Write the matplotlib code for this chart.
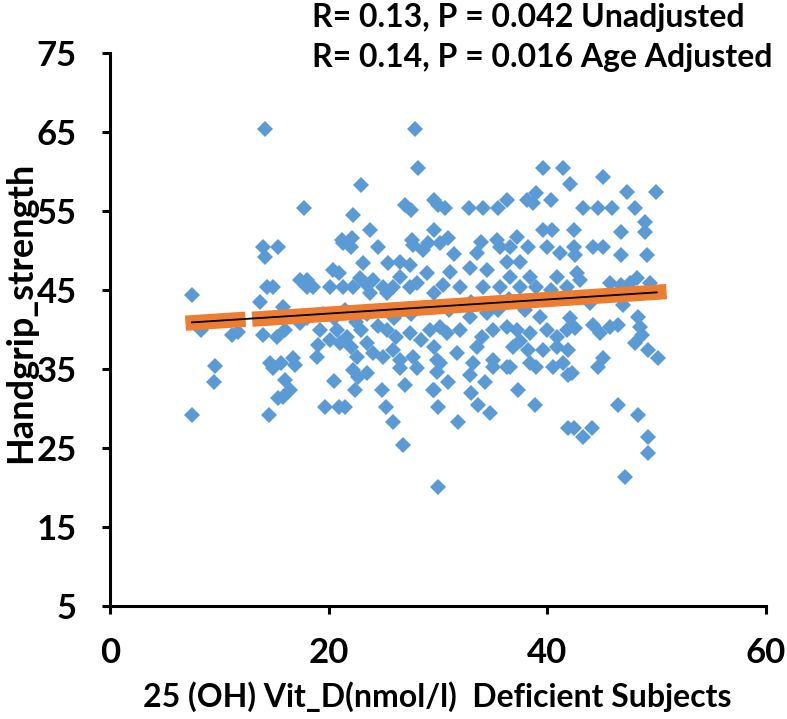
import matplotlib.pyplot as plt

# 25(OH) vitamin D (nmol/l) and handgrip strength
vit_d = [
    7.5, 7.5, 8.3, 9.6, 9.5, 11.2, 11.7, 13.7, 14.4, 14.9, 14.0, 15.4, 14.2, 14.0, 15.3,
    16.0, 15.8, 14.6, 15.6, 16.7, 17.4, 18.0, 14.2, 17.7, 14.5, 14.9, 16.0, 16.5, 15.4,
    15.8, 16.9,
    27.9, 28.2, 23.0, 22.2, 23.8, 27.0, 27.5, 29.6, 30.0, 21.2, 22.1, 27.6, 29.6, 29.1,
    39.6, 41.4, 42.1, 30.6, 32.8, 34.1, 35.5, 36.3, 38.1, 39.0, 40.3, 38.7, 30.9, 33.9,
    35.4, 37.2, 39.6, 40.4,
    21.3, 22.0, 27.7, 28.6, 23.1, 25.4, 26.5, 27.4, 20.4, 20.9, 18.0, 18.6, 22.9, 24.1,
    26.5, 29.0, 20.1, 21.3, 22.2, 23.5, 25.0, 25.9, 27.4, 28.1, 23.8, 25.3, 17.4, 19.2,
    20.8, 21.7, 20.1, 21.0, 22.0, 23.5, 24.1, 25.3, 26.2, 27.4, 28.4, 29.3, 18.9, 22.6,
    25.0, 25.9, 26.5, 27.7, 29.6, 29.9,
    22.2, 22.7, 22.4, 19.7, 20.9, 21.5, 24.9, 25.2, 25.9, 26.8, 26.5, 28.1, 29.5, 30.0,
    30.0,
    30.2, 33.6, 35.7, 36.6, 38.2, 40.0, 41.2, 36.3, 32.9, 31.1, 36.6, 38.4, 40.9, 30.5,
    32.0, 34.1, 35.7, 37.5, 39.0, 40.3, 41.8, 29.6, 32.9, 34.5, 39.3, 30.2, 30.8, 35.0,
    36.3, 37.2, 38.4, 40.0, 40.9, 41.8, 33.6, 36.9, 38.2, 39.6, 40.9, 31.7, 30.2, 33.2,
    35.0, 36.3, 38.4, 41.4,
    29.9, 30.9, 29.6, 31.8, 32.9, 34.3, 33.7, 34.8, 35.0, 36.6, 37.3, 38.9, 39.0, 40.5,
    41.9, 41.9,
    45.1, 47.3, 49.9, 43.3, 44.6, 45.9, 48.0, 42.4, 46.7, 48.9, 48.9, 42.4, 44.2, 45.1,
    42.5, 46.7, 49.1, 42.7, 43.0, 45.7, 46.7, 48.2, 49.4, 47.6, 43.9, 46.9, 42.1, 42.5,
    44.2, 44.8, 45.7, 46.5, 48.3, 48.5, 48.7, 48.0, 49.2, 50.1, 41.9, 45.1, 44.6, 42.3,
    46.5, 48.3, 42.4, 43.3, 44.1, 49.2, 49.2, 47.1,
    19.5, 20.5, 21.5, 22.5, 23.5, 23.0, 24.5, 26.0, 27.5, 31.0, 32.0, 33.0, 35.5, 36.5,
    38.0, 37.5, 34.5, 31.5, 24.5, 19.0, 18.0, 33.0, 37.5, 34.0, 27.0, 23.5, 20.5,
]
grip = [
    44.4, 29.2, 39.9, 35.4, 33.4, 39.3, 39.7, 43.5, 45.4, 45.4, 50.4, 50.4, 49.2, 39.3, 39.0,
    40.0, 42.8, 35.8, 35.8, 36.4, 46.3, 45.4, 65.4, 55.4, 29.2, 35.1, 33.6, 32.3, 31.3,
    31.5, 35.5,
    65.4, 60.4, 58.3, 54.5, 52.6, 55.8, 55.1, 56.4, 55.8, 51.3, 51.6, 51.3, 52.6, 51.0,
    60.4, 60.4, 58.4, 55.4, 55.4, 55.4, 55.4, 56.4, 56.4, 57.3, 56.4, 56.0, 51.6, 51.1,
    51.3, 51.7, 52.6, 52.6,
    50.9, 50.4, 50.7, 50.1, 48.4, 48.4, 48.6, 48.2, 47.5, 47.1, 46.3, 45.4, 46.5, 46.3,
    46.6, 47.1, 45.4, 45.4, 45.4, 45.6, 45.4, 45.4, 45.4, 45.9, 44.6, 44.6, 40.8, 39.9,
    39.9, 39.0, 38.7, 38.3, 37.8, 38.3, 37.0, 39.9, 39.0, 39.5, 38.7, 39.9, 36.5, 36.5,
    36.5, 37.4, 36.1, 36.5, 37.8, 36.1,
    34.9, 34.0, 32.3, 30.2, 30.2, 30.2, 32.3, 30.2, 28.3, 25.4, 35.1, 35.1, 32.3, 30.2,
    20.1,
    51.0, 49.7, 50.4, 50.4, 50.4, 50.4, 49.7, 48.6, 47.8, 47.3, 46.6, 46.6, 46.6, 45.6,
    45.4, 45.4, 45.4, 45.4, 45.4, 45.0, 45.4, 44.6, 41.6, 42.1, 41.6, 40.3, 39.6, 39.9,
    40.3, 39.9, 39.5, 39.9, 39.0, 39.9, 37.8, 37.8, 37.4, 37.4, 37.8, 37.0, 35.8, 35.8,
    36.1, 35.3, 35.8, 35.8,
    34.6, 33.4, 32.3, 28.3, 34.2, 33.4, 30.4, 29.4, 35.3, 35.3, 32.3, 30.4, 35.3, 35.3,
    34.2, 27.5,
    59.3, 57.4, 57.4, 55.4, 55.4, 55.4, 55.4, 52.6, 52.3, 53.6, 52.3, 50.4, 50.4, 50.4,
    49.4, 49.4, 49.4, 47.2, 46.3, 45.9, 45.6, 46.5, 45.9, 45.9, 43.4, 43.1, 41.5, 40.2,
    40.6, 39.6, 40.3, 40.6, 41.6, 40.3, 39.3, 38.3, 37.4, 36.4, 37.4, 36.4, 35.3, 34.5,
    30.4, 29.2, 27.5, 26.4, 27.5, 26.4, 24.4, 21.3,
    42.0, 41.5, 42.5, 41.0, 42.0, 40.0, 40.5, 41.5, 42.0, 42.5, 40.0, 43.5, 42.5, 43.8,
    42.5, 48.5, 47.5, 49.5, 50.5, 38.0, 41.5, 32.0, 38.5, 39.0, 33.0, 34.5, 33.5,
]

# trend line and the orange band behind it (two pieces, gap near x = 12.5)
trend_x = [7.5, 50.0]
trend_y = [40.9, 44.7]
band1_x = [6.9, 12.4]
band1_y = [40.8, 41.3]
band2_x = [13.0, 50.9]
band2_y = [41.3, 44.8]

W, H = 787, 719
fig = plt.figure(figsize=(W / 100, H / 100), dpi=100)
ax = fig.add_axes([110 / W, 113 / H, 656 / W, 553 / H])

font = ['Lato', 'DejaVu Sans']

ax.plot(vit_d, grip, linestyle='none', marker='D', ms=8.6, color='#5B9BD5',
        markeredgewidth=0, zorder=2)
ax.plot(band1_x, band1_y, color='#ED7D31', lw=11, solid_capstyle='butt', zorder=3)
ax.plot(band2_x, band2_y, color='#ED7D31', lw=11, solid_capstyle='butt', zorder=3)
ax.plot(trend_x, trend_y, color='black', lw=1.3, zorder=4)

ax.set_xlim(0, 60)
ax.set_ylim(5, 75)
ax.set_xticks([0, 20, 40, 60])
ax.set_yticks(range(5, 76, 10))

for s in ['top', 'right']:
    ax.spines[s].set_visible(False)
for s in ['left', 'bottom']:
    ax.spines[s].set_linewidth(2.2)
    ax.spines[s].set_color('black')

ax.tick_params(axis='both', direction='out', length=6, width=2.2, colors='black')
ax.tick_params(axis='x', pad=16)
ax.tick_params(axis='y', pad=18)
for lab in ax.get_xticklabels() + ax.get_yticklabels():
    lab.set_fontfamily(font)
    lab.set_fontweight('bold')
    lab.set_fontsize(25)

fig.text(437 / W, 1 - 707 / H, '25 (OH) Vit_D(nmol/l)  Deficient Subjects',
         ha='center', va='baseline', fontsize=23, fontweight='bold', family=font)
fig.text(21 / W, 1 - 312 / H, 'Handgrip_strength', rotation=90,
         ha='center', va='center', fontsize=26, fontweight='bold', family=font)

fig.text(312 / W, 1 - 27 / H, 'R= 0.13, P = 0.042 Unadjusted',
         ha='left', va='baseline', fontsize=23, fontweight='bold', family=font)
fig.text(312 / W, 1 - 67 / H, 'R= 0.14, P = 0.016 Age Adjusted',
         ha='left', va='baseline', fontsize=23, fontweight='bold', family=font)

fig.savefig('out.png', dpi=100)
